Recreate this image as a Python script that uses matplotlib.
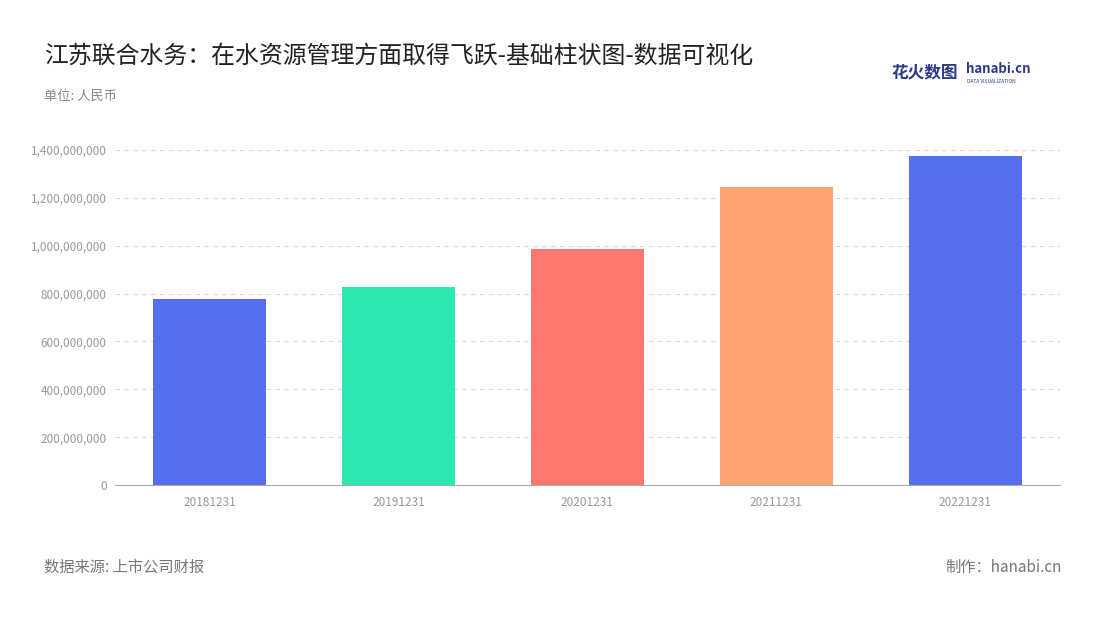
import matplotlib
matplotlib.use("Agg")
import matplotlib.pyplot as plt
from matplotlib.ticker import FuncFormatter

plt.rcParams['font.family'] = ['Noto Sans CJK SC', 'DejaVu Sans']

categories = ["20181231", "20191231", "20201231", "20211231", "20221231"]
values = [777e6, 827e6, 986e6, 1245e6, 1375e6]
colors = ["#5470ee", "#2de8b2", "#ff776f", "#ffa46e", "#5470ee"]
yticks = [0, 2e8, 4e8, 6e8, 8e8, 1e9, 1.2e9, 1.4e9]

fig = plt.figure(figsize=(11, 6.2), dpi=100)
ax = fig.add_axes([0.1045, 0.2177, 0.859, 0.5403])
ax.bar(range(len(categories)), values, width=0.6, color=colors, zorder=2)
ax.set_xlim(-0.5, len(categories) - 0.5)
ax.set_ylim(0, 1.4e9)
ax.set_yticks(yticks)
ax.yaxis.set_major_formatter(FuncFormatter(lambda v, p: f"{int(v):,}"))
ax.set_xticks(range(len(categories)))
ax.set_xticklabels(categories)
ax.tick_params(axis='both', labelsize=8.5, colors='#999999', length=0)
ax.tick_params(axis='x', pad=8)
ax.tick_params(axis='y', pad=6)
ax.grid(axis='y', linestyle=(0, (4, 4)), color='#d8d8d8', linewidth=0.8, zorder=0)
for s in ['top', 'right', 'left']:
    ax.spines[s].set_visible(False)
ax.spines['bottom'].set_color('#aaaaaa')

fig.text(0.04, 0.91, "江苏联合水务：在水资源管理方面取得飞跃-基础柱状图-数据可视化", fontsize=17.2, color='#222222', va='center')
fig.text(0.04, 0.845, "单位: 人民币", fontsize=9.5, color='#888888', va='center')
fig.text(0.04, 0.085, "数据来源: 上市公司财报", fontsize=11, color='#777777', va='center')
fig.text(0.965, 0.085, "制作：hanabi.cn", fontsize=11, color='#777777', va='center', ha='right')
fig.text(0.81, 0.883, "花火数图", fontsize=12, color='#2d3a8c', va='center', fontweight='bold')
fig.text(0.878, 0.888, "hanabi.cn", fontsize=9.5, color='#2d3a8c', va='center', fontweight='bold')
fig.text(0.879, 0.868, "DATA VISUALIZATION", fontsize=3.5, color='#2d3a8c', va='center')

fig.savefig("out.png", dpi=100)
